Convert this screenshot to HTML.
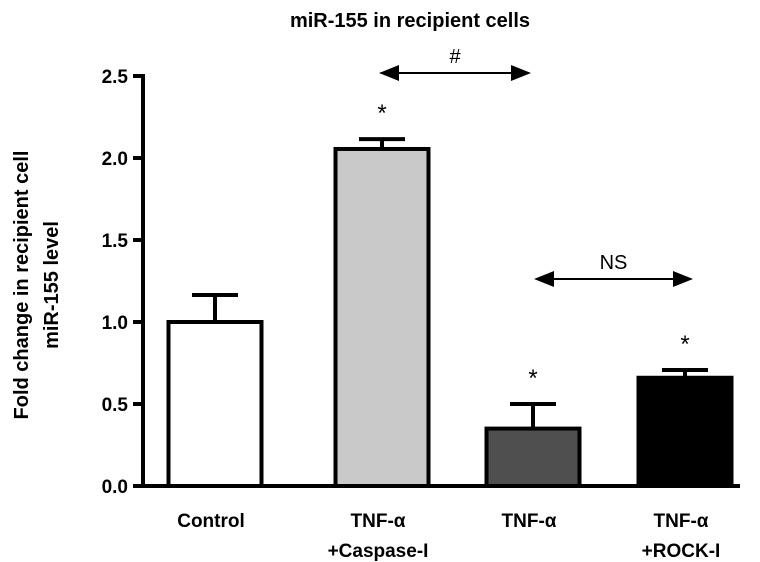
<!DOCTYPE html>
<html><head><meta charset="utf-8"><style>
html,body{margin:0;padding:0;background:#fff;}
svg{display:block;font-family:"Liberation Sans",sans-serif;}
</style></head><body>
<svg id="chart" width="760" height="562" viewBox="0 0 760 562">
<text x="410" y="27" text-anchor="middle" font-size="20" font-weight="bold">miR-155 in recipient cells</text>
<g transform="translate(28,285) rotate(-90)">
<text x="0" y="0" text-anchor="middle" font-size="20" font-weight="bold">Fold change in recipient cell</text>
<text x="0" y="30" text-anchor="middle" font-size="20" font-weight="bold">miR-155 level</text>
</g>
<g id="plot"></g>
</svg>
<script>
const categories=[["Control"],["TNF-α","+Caspase-I"],["TNF-α"],["TNF-α","+ROCK-I"]];
const values=[1.0,2.055,0.35,0.66];
const errors=[0.165,0.06,0.15,0.047];
const fills=["#ffffff","#c9c9c9","#4f4f4f","#000000"];
const stars=[false,true,true,true];
const ticks=[0,0.5,1.0,1.5,2.0,2.5];
const tickLabels=["0.0","0.5","1.0","1.5","2.0","2.5"];
const centers=[215,382,533,685];
const NS="http://www.w3.org/2000/svg";
const g=document.getElementById('plot');
const y=v=>486-v*164;
const barW=97;
function mk(t,a,p){const e=document.createElementNS(NS,t);for(const k in a)e.setAttribute(k,a[k]);(p||g).appendChild(e);return e;}
let ax=mk('line',{x1:143,y1:y(2.5)-2,x2:143,y2:y(0)+2,stroke:'#000','stroke-width':4});


let xax=mk('line',{x1:141,y1:y(0),x2:740,y2:y(0),stroke:'#000','stroke-width':4});


ticks.forEach((t,i)=>{
 const tk=mk('line',{x1:133,y1:y(t),x2:143,y2:y(t),stroke:'#000','stroke-width':4});
 
 
 const tl=mk('text',{x:128,y:y(t)+7,'text-anchor':'end','font-size':19,'font-weight':'bold'});
 tl.textContent=tickLabels[i];
 
 
});
values.forEach((v,i)=>{
 const cx=centers[i];
 const top=y(v), et=y(v+errors[i]);
 const el=mk('line',{x1:cx,y1:top,x2:cx,y2:et,stroke:'#000','stroke-width':4});
 
 
 const cap=mk('line',{x1:cx-23,y1:et,x2:cx+23,y2:et,stroke:'#000','stroke-width':4});
 
 
 const r=mk('rect',{x:cx-barW/2+2,y:top,width:barW-4,height:y(0)-top,fill:fills[i],stroke:'#000','stroke-width':4});
 
 
 if(stars[i]){
  const s=mk('text',{x:cx,y:et-18,'text-anchor':'middle','font-size':24});
  s.textContent='*';
  
  
 }
 categories[i].forEach((ln,j)=>{
  const t=mk('text',{x:cx-4,y:527+j*30,'text-anchor':'middle','font-size':19,'font-weight':'bold'});
  t.textContent=ln;
  
  
 });
});
function arrow(x1,x2,yy,label,name){
 const l=mk('line',{x1:x1+14,y1:yy,x2:x2-14,y2:yy,stroke:'#000','stroke-width':2});
 
 
 mk('polygon',{points:`${x1},${yy} ${x1+20},${yy-8} ${x1+20},${yy+8}`,fill:'#000'});
 mk('polygon',{points:`${x2},${yy} ${x2-20},${yy-8} ${x2-20},${yy+8}`,fill:'#000'});
 const t=mk('text',{x:(x1+x2)/2,y:yy-10,'text-anchor':'middle','font-size':20});
 t.textContent=label;
 
 
}
arrow(379,531,73,'#','hash');
arrow(534,693,279,'NS','ns');
</script>
</body></html>
